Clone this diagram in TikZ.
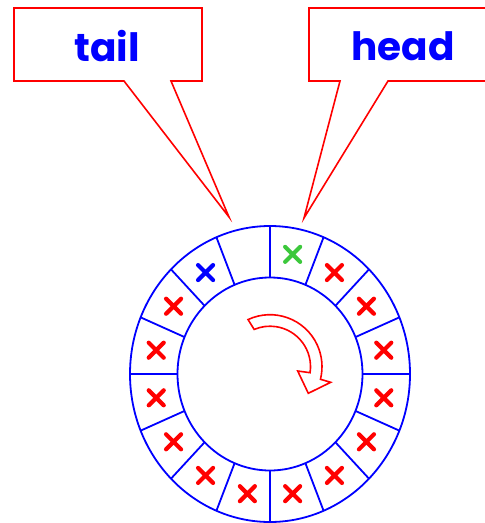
\documentclass[tikz,border=0pt]{standalone}
\usepackage{fontspec}
\usetikzlibrary{calc}
\newfontfamily\calloutfont{Poppins}
\definecolor{okgreen}{RGB}{60,200,60}
\begin{document}
\begin{tikzpicture}[x=1pt,y=-1pt,
  ringline/.style={draw=blue, line width=1.8pt},
  callout/.style={draw=red, line width=1.6pt, fill=white, line join=miter},
  calltext/.style={text=blue, inner sep=0pt, font=\calloutfont\bfseries\fontsize{39}{41}\selectfont},
  xcross/.style={line width=4.2pt, line cap=round},
  turnarrow/.style={draw=red, line width=1.6pt, fill=white, line join=miter}]
\useasboundingbox (0,0) rectangle (485,523);
\clip (0,0) rectangle (485,523);

% speech bubbles
\draw[callout] (14,8) -- (202,8) -- (202,81) -- (171,81) -- (229,217)
  -- (124,81) -- (14,81) -- cycle;
\draw[callout] (309,8) -- (495,8) -- (495,81) -- (388,81) -- (304,218)
  -- (340,81) -- (309,81) -- cycle;
\node[calltext] (tail) at (107,46) {tail};
\node[calltext] (head) at (403,46) {head};

% circular buffer: outer and inner rims
\coordinate (c) at (270,374);
\draw[ringline] (c) ellipse [x radius=140, y radius=148];
\draw[ringline] (c) ellipse [x radius=92.5, y radius=96.5];
% slot dividers
\foreach \k in {0,...,15}{
  \pgfmathsetmacro{\t}{\k*22.5}
  \draw[ringline] ($(c)+({92.5*cos(\t)},{96.5*sin(\t)})$)
    -- ($(c)+({140*cos(\t)},{148*sin(\t)})$);
}
% slot contents (angles measured clockwise from the right)
\foreach \a/\col in {-78.75/okgreen, -56.25/red, -33.75/red, -11.25/red,
  11.25/red, 33.75/red, 56.25/red, 78.75/red, 101.25/red, 123.75/red,
  146.25/red, 168.75/red, 191.25/red, 213.75/red, 236.25/blue}{
  \coordinate (m) at ($(c)+({116*cos(\a)},{122*sin(\a)})$);
  \draw[xcross, \col] ($(m)+(-7.5,-7.5)$) -- ($(m)+(7.5,7.5)$)
    ($(m)+(-7.5,7.5)$) -- ($(m)+(7.5,-7.5)$);
}

% direction of travel
\coordinate (ac) at (270,366.7);
\draw[turnarrow] ($(ac)+(-115:52)$) arc[start angle=-115, end angle=14, radius=52]
  -- (330.7,382.3) -- (308.3,393.3) -- (297.7,371)
  -- ($(ac)+(8.5:40.5)$) arc[start angle=8.5, end angle=-113, radius=40.5]
  -- cycle;
\end{tikzpicture}
\end{document}
